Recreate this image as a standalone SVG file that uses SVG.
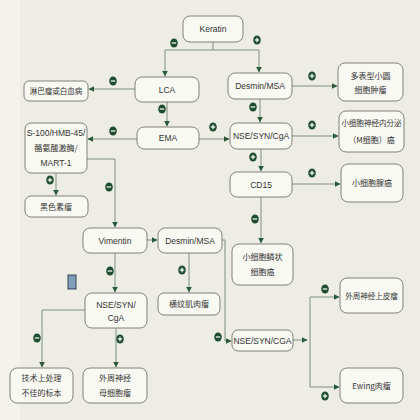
<svg xmlns="http://www.w3.org/2000/svg" width="420" height="420" viewBox="0 0 420 420">
<style>
.bg{fill:#edede5}
.box{fill:#f9f9f4;stroke:#74746c;stroke-width:0.9}
.ln{fill:none;stroke:#7d8f85;stroke-width:1}
.t{font-family:"Liberation Sans","Noto Sans CJK SC",sans-serif;font-size:8.5px;fill:#333331;text-anchor:middle}
.c{font-family:"Noto Sans CJK SC","Liberation Sans",sans-serif;font-size:8px;fill:#333331;text-anchor:middle}
.cs{font-size:7.5px}
.sg{fill:#1f4d30}
.sl{stroke:#ffffff;stroke-width:1.2}
</style>
<defs>
<marker id="ah" viewBox="0 0 10 10" refX="9" refY="5" markerWidth="6" markerHeight="6" orient="auto" markerUnits="userSpaceOnUse">
<path d="M0,0 L10,5 L0,10 z" fill="#2b5a39"/>
</marker>
<g id="plus"><ellipse rx="3.8" ry="4.6" class="sg"/><line x1="-2.2" y1="0" x2="2.2" y2="0" class="sl"/><line x1="0" y1="-2.2" x2="0" y2="2.2" class="sl"/></g>
<g id="minus"><ellipse rx="3.8" ry="4.6" class="sg"/><line x1="-2.2" y1="0" x2="2.2" y2="0" class="sl"/></g>
</defs>
<rect class="bg" x="0" y="0" width="420" height="420"/>
<rect x="0" y="0" width="20" height="420" fill="#f3f2ec"/>

<g id="connectors">
<path class="ln" d="M213,42 V50 M165,50 H259"/>
<path class="ln" d="M165,50 V76" marker-end="url(#ah)"/>
<path class="ln" d="M259,50 V72" marker-end="url(#ah)"/>
<path class="ln" d="M135,89 H89" marker-end="url(#ah)"/>
<path class="ln" d="M167,102 V126" marker-end="url(#ah)"/>
<path class="ln" d="M137,139 H88" marker-end="url(#ah)"/>
<path class="ln" d="M199,139 H229" marker-end="url(#ah)"/>
<path class="ln" d="M56,173 V195" marker-end="url(#ah)"/>
<path class="ln" d="M87,159 H115 V227" marker-end="url(#ah)"/>
<path class="ln" d="M147,240 H157" marker-end="url(#ah)"/>
<path class="ln" d="M189,253 V292" marker-end="url(#ah)"/>
<path class="ln" d="M222,240 H225 V341 H231" marker-end="url(#ah)"/>
<path class="ln" d="M293,340 H307" marker-end="url(#ah)"/>
<path class="ln" d="M310,297 V387"/>
<path class="ln" d="M310,297 H339" marker-end="url(#ah)"/>
<path class="ln" d="M310,387 H339" marker-end="url(#ah)"/>
<path class="ln" d="M292,86 H337" marker-end="url(#ah)"/>
<path class="ln" d="M260,99 V122" marker-end="url(#ah)"/>
<path class="ln" d="M292,136 H338" marker-end="url(#ah)"/>
<path class="ln" d="M261,149 V171" marker-end="url(#ah)"/>
<path class="ln" d="M292,184 H340" marker-end="url(#ah)"/>
<path class="ln" d="M261,197 V243" marker-end="url(#ah)"/>
<path class="ln" d="M115,253 V292" marker-end="url(#ah)"/>
<path class="ln" d="M85,310 H42 V367" marker-end="url(#ah)"/>
<path class="ln" d="M116,328 V367" marker-end="url(#ah)"/>
<use href="#minus" x="174" y="43"/>
<use href="#plus" x="257" y="40"/>
<use href="#minus" x="113" y="81"/>
<use href="#minus" x="162" y="109"/>
<use href="#minus" x="113" y="131"/>
<use href="#plus" x="213" y="127"/>
<use href="#plus" x="50" y="180"/>
<use href="#minus" x="109" y="187"/>
<use href="#plus" x="182" y="270"/>
<use href="#minus" x="218" y="337"/>
<use href="#minus" x="325" y="289"/>
<use href="#plus" x="325" y="396"/>
<use href="#plus" x="312" y="76"/>
<use href="#minus" x="253" y="107"/>
<use href="#plus" x="312" y="125"/>
<use href="#plus" x="253" y="157"/>
<use href="#plus" x="312" y="173"/>
<use href="#minus" x="255" y="219"/>
<use href="#minus" x="110" y="271"/>
<use href="#minus" x="37" y="338"/>
<use href="#plus" x="120" y="339"/>
</g>

<g id="keratin"><rect class="box" x="183" y="16" width="60" height="26" rx="7"/><text class="t" x="213" y="32">Keratin</text></g>
<g id="lca"><rect class="box" x="135" y="77" width="64" height="25" rx="7"/><text class="t" x="167" y="92.5">LCA</text></g>
<g id="lymphoma"><rect class="box" x="24" y="81" width="64" height="20" rx="5"/><text class="c cs" x="56" y="94">淋巴瘤或白血病</text></g>
<g id="ema"><rect class="box" x="137" y="127" width="62" height="22" rx="7"/><text class="t" x="168" y="141">EMA</text></g>
<g id="s100"><rect class="box" x="25" y="123" width="62" height="50" rx="6"/><text class="t" x="56" y="136">S-100/HMB-45/</text><text class="c" x="56" y="151">酪氨酸激酶/</text><text class="t" x="56" y="166">MART-1</text></g>
<g id="melanoma"><rect class="box" x="25" y="196" width="63" height="21" rx="6"/><text class="c" x="56" y="209.5">黑色素瘤</text></g>
<g id="vimentin"><rect class="box" x="83" y="228" width="64" height="25" rx="7"/><text class="t" x="115" y="243.5">Vimentin</text></g>
<g id="desmin2"><rect class="box" x="158" y="228" width="64" height="25" rx="7"/><text class="t" x="190" y="243.5">Desmin/MSA</text></g>
<g id="rhabdo"><rect class="box" x="158" y="293" width="62" height="22" rx="6"/><text class="c" x="189" y="307">横纹肌肉瘤</text></g>
<g id="nse3"><rect class="box" x="232" y="330" width="61" height="21" rx="6"/><text class="t" x="262.5" y="343.5">NSE/SYN/CGA</text></g>
<g id="pnet"><rect class="box" x="340" y="278" width="63" height="35" rx="7"/><text class="c cs" x="371.5" y="298.5">外周神经上皮瘤</text></g>
<g id="ewing"><rect class="box" x="340" y="368" width="63" height="35" rx="7"/><text class="c" x="371.5" y="388.5">Ewing肉瘤</text></g>
<g id="desmin1"><rect class="box" x="228" y="73" width="64" height="26" rx="7"/><text class="t" x="260" y="89">Desmin/MSA</text></g>
<g id="polyphenotypic"><rect class="box" x="338" y="63" width="65" height="38" rx="7"/><text class="c" x="370.5" y="79">多表型小圆</text><text class="c" x="370.5" y="93">细胞肿瘤</text></g>
<g id="nse1"><rect class="box" x="230" y="123" width="62" height="26" rx="7"/><text class="t" x="261" y="139">NSE/SYN/CgA</text></g>
<g id="neuroendocrine"><rect class="box" x="339" y="111" width="65" height="41" rx="7"/><text class="c cs" x="371.5" y="126">小细胞神经内分泌</text><text class="c" x="371.5" y="143">（M细胞）癌</text></g>
<g id="cd15"><rect class="box" x="230" y="172" width="62" height="25" rx="7"/><text class="t" x="261" y="187.5">CD15</text></g>
<g id="adeno"><rect class="box" x="341" y="164" width="62" height="38" rx="7"/><text class="c" x="372" y="186">小细胞腺癌</text></g>
<g id="squamous"><rect class="box" x="232" y="244" width="61" height="41" rx="7"/><text class="c" x="262.5" y="260">小细胞鳞状</text><text class="c" x="262.5" y="275">细胞癌</text></g>
<g id="nse2"><rect class="box" x="85" y="293" width="62" height="35" rx="7"/><text class="t" x="116" y="308">NSE/SYN/</text><text class="t" x="116" y="321">CgA</text></g>
<g id="technical"><rect class="box" x="10" y="368" width="63" height="35" rx="7"/><text class="c" x="41.5" y="381">技术上处理</text><text class="c" x="41.5" y="396">不佳的标本</text></g>
<g id="neuroblastoma"><rect class="box" x="83" y="368" width="64" height="35" rx="7"/><text class="c" x="115" y="381">外周神经</text><text class="c" x="115" y="396">母细胞瘤</text></g>
<rect x="68" y="275" width="8" height="14" fill="#7f9fbd" stroke="#3a4450" stroke-width="1"/>
</svg>
